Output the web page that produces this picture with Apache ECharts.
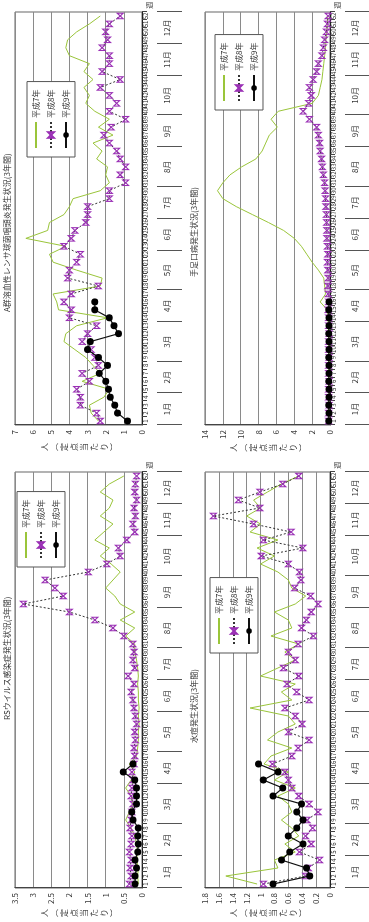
<!DOCTYPE html>
<html>
<head>
<meta charset="utf-8">
<script src="https://cdn.jsdelivr.net/npm/echarts@6/dist/echarts.min.js"></script>
<style>
  html, body { margin: 0; padding: 0; background: #fff; width: 369px; height: 922px; overflow: hidden; }
  /* the sheet is laid out landscape and turned a quarter turn counter-clockwise */
  #sheet { position: absolute; left: 0; top: 0; width: 922px; height: 369px;
           transform-origin: 0 0; transform: translate(0, 922px) rotate(-90deg); background: #fff; }
</style>
</head>
<body>
<div id="sheet"></div>
<script>
// week numbers along the category axis
const weekLabels = ['1','2','3','4','5','6','7','8','9','10','11','12','13','14','15','16','17','18','19','20',
  '21','22','23','24','25','26','27','28','29','30','31','32','33','34','35','36','37','38','39','40',
  '41','42','43','44','45','46','47','48','49','50','51','52'];
const monthNames = ['1月','2月','3月','4月','5月','6月','7月','8月','9月','10月','11月','12月'];
const monthStartWeeks = [1, 5, 9, 14, 18, 23, 27, 31, 36, 40, 45, 49];
const yearNames = ['平成7年', '平成8年', '平成9年'];
const valueAxisName = '人(定点当たり)';

// RSウイルス感染症 (per sentinel site)
const rsH7 = [0.1,0.12,0.1,0.15,0.12,0.15,0.2,0.3,0.45,0.35,0.25,0.3,0.45,0.3,0.2,0.35,0.15,0.12,0.1,0.1,
  0.08,0.1,0.08,0.1,0.1,0.12,0.1,0.12,0.15,0.2,0.2,0.45,0.2,0.6,0.2,0.6,0.75,1.0,0.8,0.6,
  0.85,1.15,0.9,1.3,1.05,0.8,1.15,0.9,0.8,1.15,0.9,0.5];
const rsH8 = [0.35,0.3,0.33,0.3,0.35,0.3,0.28,0.33,0.3,0.28,0.25,0.3,0.28,0.25,0.28,0.22,0.2,0.22,0.18,0.2,
  0.15,0.18,0.22,0.25,0.3,0.22,0.38,0.2,0.25,0.22,0.25,0.5,0.8,1.3,2.0,3.27,2.17,2.4,2.67,1.48,
  0.97,0.6,0.65,0.42,0.2,0.25,0.18,0.22,0.15,0.2,0.18,0.15];
const rsH9 = [0.19,0.19,0.15,0.19,0.12,0.1,0.12,0.1,0.25,0.28,0.15,0.15,0.15,0.2,0.52,0.25];

// A群溶血性レンサ球菌咽頭炎
const strepH7 = [2.4,2.8,2.9,2.1,1.8,3.3,2.3,2.7,3.1,3.7,4.3,4.2,3.6,1.9,4.6,4.7,4.9,2.3,2.2,3.6,
  4.9,5.1,4.2,6.4,5.2,5.1,4.3,4.0,3.8,2.3,1.8,2.0,1.9,2.5,2.2,2.7,1.6,2.4,1.8,2.6,
  3.1,2.9,3.2,2.7,3.2,2.9,4.0,4.2,4.1,3.6,2.9,2.3];
const strepH8 = [2.3,2.5,3.4,3.4,3.6,2.9,3.3,2.4,2.6,2.8,3.3,3.0,2.5,4.0,3.9,4.3,3.9,2.4,4.1,4.0,
  3.6,3.4,4.3,3.9,3.7,3.1,3.0,3.0,1.8,1.8,0.9,1.2,0.9,1.2,1.4,1.8,2.1,1.7,0.9,1.8,
  1.4,1.8,2.3,1.2,2.2,1.8,1.8,2.2,1.9,2.0,1.8,1.2];
const strepH9 = [0.8,1.35,1.5,1.75,1.85,2.0,2.35,1.9,2.4,3.0,2.85,1.3,1.55,1.8,2.6,2.6];

// 水痘
const varH7 = [1.05,1.5,0.75,0.8,0.5,0.65,0.45,0.55,0.7,0.55,0.6,0.75,0.5,0.8,0.6,0.95,0.85,0.55,0.9,0.75,
  0.5,0.6,1.15,0.55,0.7,0.5,1.0,0.75,0.5,0.65,0.45,0.85,0.55,0.6,0.8,0.5,0.35,0.55,0.6,0.75,
  1.0,0.8,1.05,0.75,1.15,1.0,1.2,1.0,1.1,0.9,0.7,0.45];
const varH8 = [0.96,0.35,0.31,0.15,0.44,0.27,0.35,0.25,0.33,0.17,0.3,0.45,0.55,0.6,0.65,0.83,0.55,0.46,0.3,0.6,
  0.4,0.5,0.65,0.3,0.48,0.62,0.45,0.67,0.5,0.6,0.46,0.24,0.41,0.34,0.27,0.17,0.28,0.51,0.42,0.44,
  0.6,0.99,0.39,0.96,0.56,1.1,1.68,1.01,1.32,1.01,0.68,0.45];
const varH9 = [0.82,0.29,0.34,0.7,0.58,0.39,0.6,0.48,0.39,0.48,0.41,0.82,0.68,0.96,0.75,1.03];

// 手足口病
const hfmH7 = [0.1,0.1,0.15,0.1,0.1,0.1,0.15,0.1,0.1,0.15,0.1,0.15,0.2,0.2,0.3,1.1,0.5,0.6,0.7,1.3,
  2.0,2.6,3.2,4.0,5.2,6.9,8.7,10.5,12.0,12.6,12.0,11.2,9.9,8.3,7.6,7.2,6.8,5.9,6.6,5.8,
  2.0,1.3,1.1,0.9,0.8,0.7,0.6,0.5,0.45,0.35,0.3,0.25];
const hfmH8 = [0.15,0.15,0.1,0.15,0.15,0.1,0.15,0.15,0.1,0.15,0.15,0.1,0.15,0.15,0.2,0.15,0.2,0.25,0.2,0.25,
  0.3,0.25,0.3,0.35,0.35,0.37,0.4,0.45,0.5,0.55,0.6,0.75,0.85,0.95,1.1,1.15,1.3,1.5,2.3,3.0,
  2.4,2.1,2.3,1.9,1.5,1.3,0.9,0.75,0.6,0.4,0.3,0.2];
const hfmH9 = [0.15,0.1,0.15,0.1,0.1,0.15,0.1,0.1,0.15,0.1,0.1,0.15,0.1,0.1,0.15,0.1];

// panel layout on the landscape sheet
const panels = [
  { title: 'RSウイルス感染症発生状況(3年間)', max: 3.5, step: 0.5, data: [rsH7, rsH8, rsH9],
    grid: { left: 34, top: 15, width: 416, height: 127 }, titlePos: { left: 202, top: 3 }, legendPos: { left: 355, top: 17 } },
  { title: 'A群溶血性レンサ球菌咽頭炎発生状況(3年間)', max: 7, step: 1, data: [strepH7, strepH8, strepH9],
    grid: { left: 497, top: 15, width: 413, height: 127 }, titlePos: { left: 610, top: 3 }, legendPos: { left: 765, top: 27 } },
  { title: '水痘発生状況(3年間)', max: 1.8, step: 0.2, data: [varH7, varH8, varH9],
    grid: { left: 34, top: 205, width: 416, height: 125 }, titlePos: { left: 179, top: 190 }, legendPos: { left: 269, top: 210 } },
  { title: '手足口病発生状況(3年間)', max: 14, step: 2, data: [hfmH7, hfmH8, hfmH9],
    grid: { left: 497, top: 205, width: 413, height: 125 }, titlePos: { left: 645, top: 190 }, legendPos: { left: 812, top: 215 } }
];

const FONT = '"Noto Sans CJK JP", "Noto Sans", sans-serif';
const TEXT = '#333';
const GREEN = '#9ac53a';
const PURPLE = '#9a2fb5';

// month band: one label per month, ticks at month boundaries
const monthEnds = monthStartWeeks.map((s, i) => (i + 1 < monthStartWeeks.length ? monthStartWeeks[i + 1] - 1 : weekLabels.length));
const monthCats = weekLabels.map(() => '');
monthStartWeeks.forEach((s, i) => {
  const len = monthEnds[i] - s + 1;
  const idx = s - 1 + Math.floor((len - 1) / 2);
  monthCats[idx] = (len % 2 === 0 ? '{e|' : '{o|') + monthNames[i] + '}';
});

// vertical stacked axis caption; brackets use their vertical forms
const stackedName = Array.from(valueAxisName).map(c => (c === '(' ? '︵' : c === ')' ? '︶' : c)).join('\n');

const grids = [], xAxes = [], yAxes = [], titles = [], legends = [], series = [];

panels.forEach((p, i) => {
  grids.push(Object.assign({ show: true, borderColor: '#666', borderWidth: 1, backgroundColor: 'transparent' }, p.grid));
  titles.push({ text: p.title, left: p.titlePos.left, top: p.titlePos.top, padding: 0,
    textStyle: { fontSize: 8, fontWeight: 'normal', color: TEXT, fontFamily: FONT } });
  legends.push({
    data: [{ name: yearNames[0], itemStyle: { opacity: 0 } }, yearNames[1], yearNames[2]],
    orient: 'vertical', left: p.legendPos.left, top: p.legendPos.top,
    padding: [5, 8, 5, 8], itemGap: 7, itemWidth: 26, itemHeight: 7, borderColor: '#555', borderWidth: 1,
    backgroundColor: '#fff', selectedMode: false,
    textStyle: { fontSize: 8, color: TEXT, fontFamily: FONT, padding: [0, 0, 0, -1] } });

  // week axis
  xAxes.push({ type: 'category', gridIndex: i, data: weekLabels, boundaryGap: true,
    name: '週', nameLocation: 'end', nameGap: 2,
    nameTextStyle: { fontSize: 7, color: TEXT, fontFamily: FONT, verticalAlign: 'top', padding: [4, 0, 0, 0] },
    axisLine: { lineStyle: { color: '#222', width: 1 } },
    axisTick: { show: true, interval: 0, length: 5, lineStyle: { color: '#444' } },
    axisLabel: { interval: 0, fontSize: 6, margin: 1, color: TEXT, fontFamily: FONT },
    splitLine: { show: false } });
  // month band below the week numbers
  xAxes.push({ type: 'category', gridIndex: i, data: monthCats, boundaryGap: true, position: 'bottom', offset: 15,
    axisLine: { show: false },
    axisTick: { show: true, length: 25, lineStyle: { color: '#555' },
      interval: (idx) => monthStartWeeks.indexOf(idx + 1) >= 0 },
    axisLabel: { interval: 0, margin: 6, fontSize: 8, color: TEXT, fontFamily: FONT,
      rich: { e: { fontSize: 8, color: TEXT, fontFamily: FONT, padding: [0, 0, 0, 8] },
              o: { fontSize: 8, color: TEXT, fontFamily: FONT } } },
    splitLine: { show: false } });

  yAxes.push({ type: 'value', gridIndex: i, min: 0, max: p.max, interval: p.step,
    name: stackedName, nameLocation: 'middle', nameRotate: 0, nameGap: 22,
    nameTextStyle: { fontSize: 8, lineHeight: 10, color: TEXT, fontFamily: FONT, align: 'center' },
    axisLine: { show: true, lineStyle: { color: '#444' } },
    axisTick: { show: false },
    axisLabel: { fontSize: 8, margin: 5, color: TEXT, fontFamily: FONT },
    splitLine: { show: true, lineStyle: { color: '#8a8a8a', width: 1 } } });

  const [h7, h8, h9] = p.data;
  series.push({ name: yearNames[0], type: 'line', xAxisIndex: 2 * i, yAxisIndex: i, data: h7,
    symbol: 'none', silent: true, z: 2,
    lineStyle: { color: GREEN, width: 1 }, itemStyle: { color: GREEN } });
  series.push({ name: yearNames[1], type: 'line', xAxisIndex: 2 * i, yAxisIndex: i, data: h8,
    symbol: 'path://M0,0L10,10L10,0L0,10Z', symbolSize: [5.5, 6], showAllSymbol: true, silent: true, z: 3,
    lineStyle: { color: '#333', width: 1, type: [2, 2] },
    itemStyle: { color: 'rgba(0,0,0,0)', borderColor: PURPLE, borderWidth: 1.1 } });
  series.push({ name: yearNames[2], type: 'line', xAxisIndex: 2 * i, yAxisIndex: i, data: h9,
    symbol: 'circle', symbolSize: 7, showAllSymbol: true, silent: true, z: 4,
    lineStyle: { color: '#111', width: 1.2 }, itemStyle: { color: '#000' } });
});

const chart = echarts.init(document.getElementById('sheet'), null, { renderer: 'canvas', width: 922, height: 369 });
chart.setOption({
  animation: false,
  backgroundColor: '#fff',
  textStyle: { fontFamily: FONT },
  title: titles,
  legend: legends,
  grid: grids,
  xAxis: xAxes,
  yAxis: yAxes,
  series: series
});
</script>
</body>
</html>
